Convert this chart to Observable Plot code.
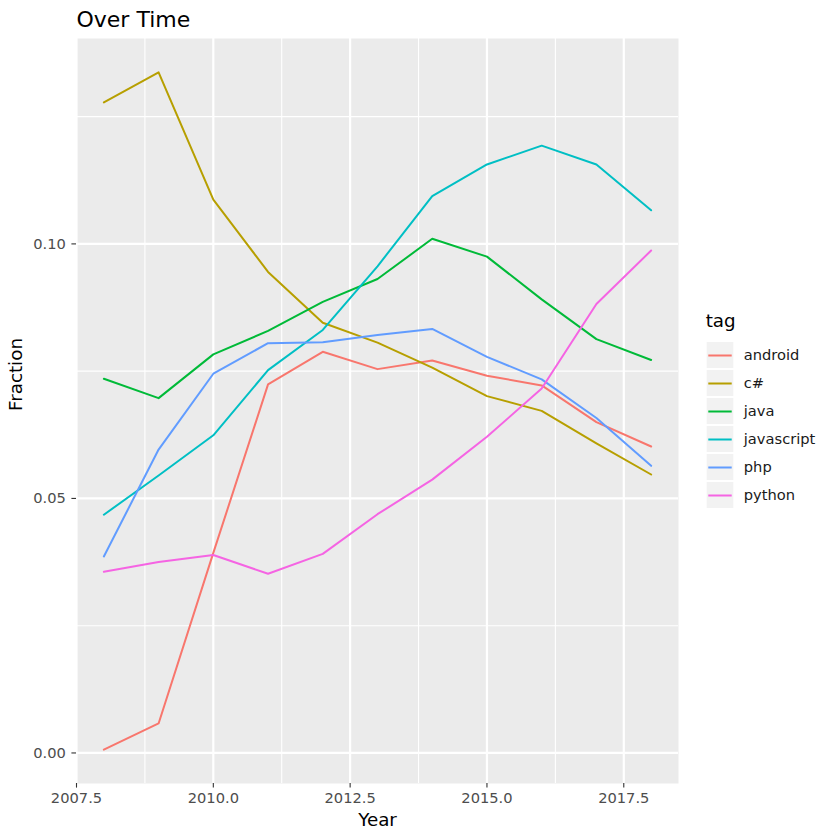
<!DOCTYPE html>
<html>
<head>
<meta charset="utf-8">
<script src="https://cdn.jsdelivr.net/npm/d3@7"></script>
<script src="https://cdn.jsdelivr.net/npm/@observablehq/plot@0.6"></script>
<style>
  html, body { margin: 0; padding: 0; background: #ffffff; }
  #chart { position: relative; width: 840px; height: 840px; font-family: "DejaVu Sans", sans-serif; }
  #chart svg { position: absolute; }
</style>
</head>
<body>
<div id="chart"></div>
<script>
// ---- data ----
const years = [2008, 2009, 2010, 2011, 2012, 2013, 2014, 2015, 2016, 2017, 2018];
const tags = ["android", "c#", "java", "javascript", "php", "python"];
const android    = [0.00065, 0.0058, 0.0393, 0.0724, 0.0788, 0.0754, 0.0771, 0.0741, 0.0722, 0.0650, 0.0602];
const csharp     = [0.1278, 0.1337, 0.1087, 0.0945, 0.0845, 0.0806, 0.0757, 0.0701, 0.0672, 0.0608, 0.0547];
const java       = [0.0735, 0.0697, 0.0783, 0.0829, 0.0886, 0.0931, 0.1010, 0.0975, 0.0891, 0.0813, 0.0772];
const javascript = [0.0468, 0.0545, 0.0624, 0.0752, 0.0831, 0.0956, 0.1094, 0.1156, 0.1193, 0.1156, 0.1066];
const php        = [0.0386, 0.0596, 0.0745, 0.0805, 0.0807, 0.0821, 0.0833, 0.0778, 0.0734, 0.0658, 0.0564];
const python     = [0.0356, 0.0375, 0.0389, 0.0352, 0.0391, 0.0469, 0.0537, 0.0621, 0.0716, 0.0882, 0.0987];
const seriesList = [android, csharp, java, javascript, php, python];
const colors = ["#F8766D", "#B79F00", "#00BA38", "#00BFC4", "#619CFF", "#F564E3"];

const xMajor = [2007.5, 2010, 2012.5, 2015, 2017.5];
const xMinor = [2008.75, 2011.25, 2013.75, 2016.25];
const yMajor = [0, 0.05, 0.10];
const yMinor = [0.025, 0.075, 0.125];

const titleText = "Over Time";
const xLabel = "Year";
const yLabel = "Fraction";
const legendTitle = "tag";

const rows = tags.flatMap((t, i) => years.map((yr, j) => ({year: yr, tag: t, fraction: seriesList[i][j]})));

const font = "DejaVu Sans";

const main = Plot.plot({
  width: 840,
  height: 840,
  marginLeft: 76,
  marginRight: 162,
  marginTop: 38,
  marginBottom: 57,
  style: {fontFamily: font, background: "transparent"},
  x: {domain: [2007.5, 2018.5]},
  y: {domain: [-0.0060, 0.14035]},
  color: {domain: tags, range: colors},
  marks: [
    Plot.frame({fill: "#EBEBEB", stroke: null}),
    Plot.gridX(xMinor, {stroke: "#ffffff", strokeOpacity: 1, strokeWidth: 1.1}),
    Plot.gridY(yMinor, {stroke: "#ffffff", strokeOpacity: 1, strokeWidth: 1.1}),
    Plot.gridX(xMajor, {stroke: "#ffffff", strokeOpacity: 1, strokeWidth: 2.2}),
    Plot.gridY(yMajor, {stroke: "#ffffff", strokeOpacity: 1, strokeWidth: 2.2}),
    Plot.line(rows, {x: "year", y: "fraction", z: "tag", stroke: "tag", strokeWidth: 2}),
    Plot.axisX(xMajor, {tickFormat: d3.format(".1f"), tickSize: 4.6, tickPadding: 4, stroke: "#333333", fill: "#4D4D4D", strokeWidth: 1.1, fontSize: 14.67, label: null}),
    Plot.axisY(yMajor, {tickFormat: d3.format(".2f"), tickSize: 4.6, tickPadding: 6, stroke: "#333333", fill: "#4D4D4D", strokeWidth: 1.1, fontSize: 14.67, label: null}),
    Plot.text([xLabel], {text: d => d, frameAnchor: "bottom", lineAnchor: "middle", dy: 37, fontSize: 18.3, fill: "#000000"}),
    Plot.text([yLabel], {text: d => d, frameAnchor: "left", lineAnchor: "middle", dx: -60, rotate: -90, fontSize: 18.3, fill: "#000000"}),
    Plot.text([titleText], {text: d => d, frameAnchor: "top-left", lineAnchor: "middle", textAnchor: "start", dy: -19, fontSize: 22, fill: "#000000"})
  ]
});
main.style.left = "0px";
main.style.top = "0px";

const legend = Plot.plot({
  width: 147,
  height: 222,
  marginLeft: 13.7,
  marginRight: 106.7,
  marginTop: 38.6,
  marginBottom: 10.6,
  style: {fontFamily: font, background: "transparent"},
  x: {domain: [0, 1], axis: null},
  y: {type: "band", domain: tags, paddingInner: 0.06, paddingOuter: 0.03, axis: null},
  color: {domain: tags, range: colors},
  marks: [
    Plot.barX(tags, {x1: 0, x2: 1, y: d => d, fill: "#F2F2F2"}),
    Plot.ruleY(tags, {y: d => d, x1: 0.06, x2: 0.94, stroke: d => d, strokeWidth: 2}),
    Plot.text(tags, {x: 1, y: d => d, text: d => d, textAnchor: "start", dx: 10, fontSize: 14.67, fill: "#1A1A1A"}),
    Plot.text([legendTitle], {text: d => d, frameAnchor: "top-left", lineAnchor: "middle", textAnchor: "start", dx: -1.5, dy: -17.6, fontSize: 18.3, fill: "#000000"})
  ]
});
legend.style.left = "693px";
legend.style.top = "300px";

const chart = document.getElementById("chart");
chart.appendChild(main);
chart.appendChild(legend);
</script>
</body>
</html>
